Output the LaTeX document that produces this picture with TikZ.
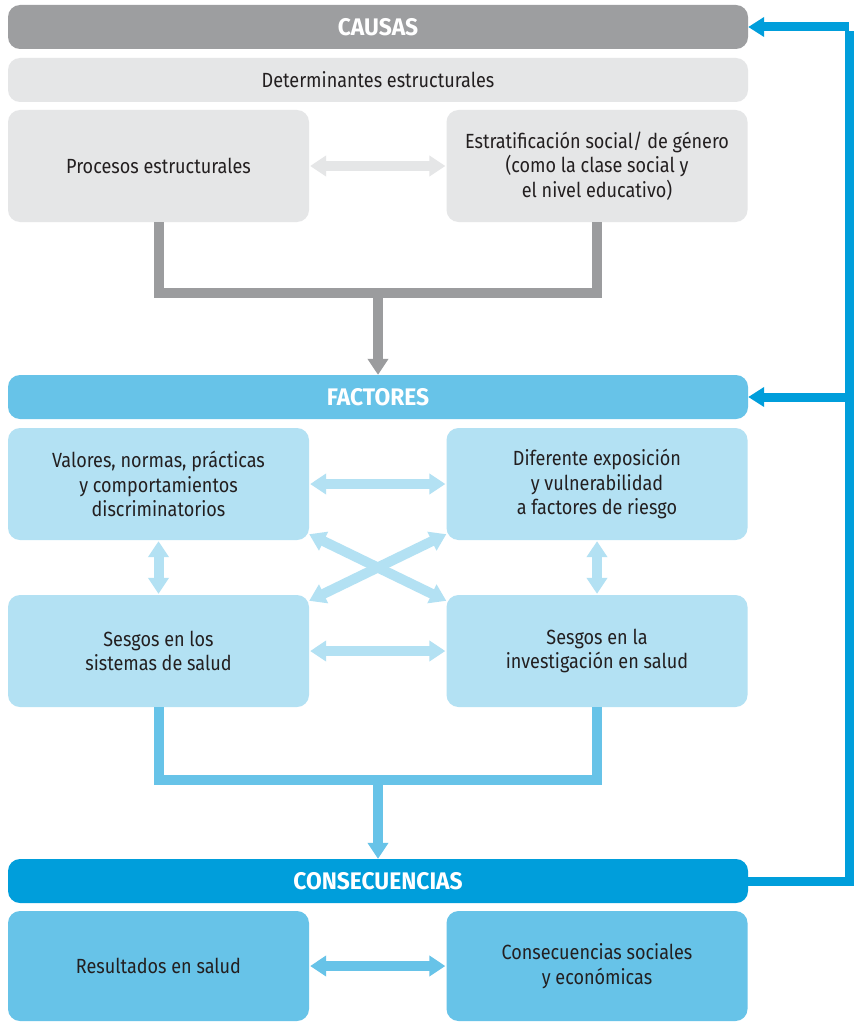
\documentclass[tikz,border=0pt]{standalone}
\usepackage{fontspec}
\setmainfont{Fira Sans}[FakeStretch=0.88]
\newfontfamily\hdrfont{Fira Sans}[FakeStretch=0.95]
\usetikzlibrary{arrows.meta}
\definecolor{hgray}{RGB}{157,158,160}
\definecolor{lgray}{RGB}{229,230,231}
\definecolor{cgray}{RGB}{155,156,158}
\definecolor{lblue}{RGB}{179,225,243}
\definecolor{mblue}{RGB}{103,195,232}
\definecolor{dblue}{RGB}{0,158,219}
\definecolor{txt}{RGB}{35,31,32}
\tikzset{
  hdr/.style={rounded corners=12pt, minimum width=740pt, minimum height=44pt, inner sep=0pt,
    text=white, font=\hdrfont\fontsize{24}{26}\selectfont\bfseries},
  box/.style={rounded corners=12pt, minimum width=301pt, minimum height=112pt, inner sep=0pt,
    align=center, text=txt, font=\fontsize{20.5}{24.5}\selectfont},
  dbl/.style={line width=10pt, {Triangle[width=20pt,length=16pt]}-{Triangle[width=20pt,length=16pt]}, shorten <=1pt, shorten >=1pt},
  conn/.style={line width=10pt},
  down/.style={line width=10pt, -{Triangle[width=20pt,length=16pt]}},
  fb/.style={line width=9pt, -{Triangle[width=19pt,length=16pt]}},
}
\begin{document}
\begin{tikzpicture}[x=1pt,y=-1pt]
\useasboundingbox[fill=white] (0,0) rectangle (855,1022);
% CAUSAS
\node[hdr, fill=hgray] (causas) at (378,27) {CAUSAS};
\node[hdr, fill=lgray, text=txt, font=\fontsize{20.5}{24}\selectfont] (det) at (378,80) {Determinantes estructurales};
\node[box, fill=lgray] (proc) at (158.5,166) {Procesos estructurales};
\node[box, fill=lgray] (estr) at (597,166) {Estratificación social/ de género\\(como la clase social y\\el nivel educativo)};
\draw[dbl, lgray] (proc.east) -- (estr.west);
% gray connector
\coordinate (gj) at (378,293);
\draw[conn, cgray] (proc.south) -- ++(0,71) -| (estr.south);
% FACTORES
\node[hdr, fill=mblue] (fact) at (378,397) {FACTORES};
\draw[down, cgray] (gj) -- (fact.north);
\node[box, fill=lblue] (val) at (158.5,484) {Valores, normas, prácticas\\y comportamientos\\discriminatorios};
\node[box, fill=lblue] (dif) at (597,484) {Diferente exposición\\y vulnerabilidad\\a factores de riesgo};
\node[box, fill=lblue] (ssal) at (158.5,651) {Sesgos en los\\sistemas de salud};
\node[box, fill=lblue] (sinv) at (597,651) {Sesgos en la\\investigación en salud};
\draw[dbl, lblue] (val.east) -- (dif.west);
\draw[dbl, lblue] (ssal.east) -- (sinv.west);
\draw[dbl, lblue] (val.south) -- (ssal.north);
\draw[dbl, lblue] (dif.south) -- (sinv.north);
\path (val.south east) ++(0,-6) coordinate (a1) (sinv.north west) ++(0,6) coordinate (a2);
\draw[dbl, lblue, shorten <=0pt, shorten >=0pt] (a1) -- (a2);
\path (dif.south west) ++(0,-6) coordinate (b1) (ssal.north east) ++(0,6) coordinate (b2);
\draw[dbl, lblue, shorten <=0pt, shorten >=0pt] (b1) -- (b2);
% blue connector
\coordinate (bj) at (378,775);
\draw[conn, mblue] (ssal.south) -- ++(0,73) -| (sinv.south);
% CONSECUENCIAS
\node[hdr, fill=dblue] (cons) at (378,881) {CONSECUENCIAS};
\draw[down, mblue] (bj) -- (cons.north);
\node[box, fill=mblue, minimum height=110pt] (res) at (158.5,966) {Resultados en salud};
\node[box, fill=mblue, minimum height=110pt] (soc) at (597,966) {Consecuencias sociales\\y económicas};
\draw[dbl, mblue] (res.east) -- (soc.west);
% feedback
\coordinate (fr) at (849,881);
\coordinate (ft) at (849,27);
\coordinate (fm) at (849,397);
\draw[line width=9pt, dblue] (cons.east) -- ([xshift=4.5pt]fr);
\draw[line width=9pt, dblue] (fr) -- ([yshift=-4.5pt]ft);
\draw[fb, dblue] (ft) -- (causas.east);
\draw[fb, dblue] (fm) -- (fact.east);
\end{tikzpicture}
\end{document}
